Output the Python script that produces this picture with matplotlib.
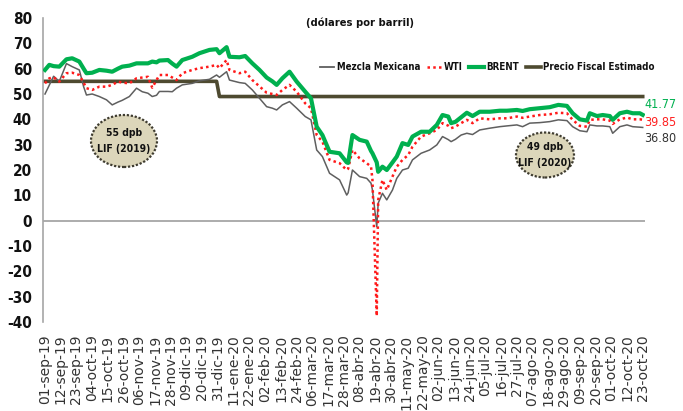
import matplotlib
matplotlib.use("Agg")
import matplotlib.pyplot as plt
import matplotlib.dates as mdates
import matplotlib.font_manager as fm
from matplotlib.patches import Ellipse
from matplotlib.lines import Line2D
import pandas as pd

# ---------------- data ----------------
dates = [
    "2019-09-01", "2019-09-04", "2019-09-07", "2019-09-11", "2019-09-16", "2019-09-20",
    "2019-09-25", "2019-09-28", "2019-09-30", "2019-10-04", "2019-10-09", "2019-10-14",
    "2019-10-18", "2019-10-22", "2019-10-25", "2019-10-30", "2019-11-04", "2019-11-08",
    "2019-11-12", "2019-11-15", "2019-11-18", "2019-11-20", "2019-11-26", "2019-11-29",
    "2019-12-02", "2019-12-06", "2019-12-13", "2019-12-18", "2019-12-25", "2019-12-30",
    "2020-01-01", "2020-01-06", "2020-01-08", "2020-01-15", "2020-01-19", "2020-01-24",
    "2020-01-29", "2020-02-03", "2020-02-07", "2020-02-10", "2020-02-14", "2020-02-19",
    "2020-02-24", "2020-03-01", "2020-03-05", "2020-03-09", "2020-03-13", "2020-03-18",
    "2020-03-25", "2020-03-30", "2020-03-31", "2020-04-03", "2020-04-08", "2020-04-13",
    "2020-04-16", "2020-04-17", "2020-04-20", "2020-04-21", "2020-04-24", "2020-04-27",
    "2020-05-01", "2020-05-04", "2020-05-08", "2020-05-12", "2020-05-15", "2020-05-21",
    "2020-05-27", "2020-06-01", "2020-06-05", "2020-06-09", "2020-06-11", "2020-06-14",
    "2020-06-18", "2020-06-22", "2020-06-26", "2020-07-01", "2020-07-08", "2020-07-15",
    "2020-07-20", "2020-07-27", "2020-07-31", "2020-08-05", "2020-08-12", "2020-08-19",
    "2020-08-25", "2020-08-31", "2020-09-04", "2020-09-09", "2020-09-14", "2020-09-16",
    "2020-09-21", "2020-09-25", "2020-09-30", "2020-10-02", "2020-10-07", "2020-10-12",
    "2020-10-16", "2020-10-21", "2020-10-23",
]

mezcla = [
    50.0, 53.5, 57.0, 55.0, 62.0, 60.8,
    59.5, 52.9, 49.6, 50.0, 49.0, 47.7,
    45.7, 46.8, 47.5, 49.0, 52.3, 50.9,
    50.3, 49.0, 49.5, 51.0, 51.0, 50.9,
    52.3, 53.6, 54.2, 55.2, 55.8, 57.5,
    56.6, 58.8, 55.5, 54.5, 54.2, 51.6,
    48.3, 45.0, 44.4, 43.7, 45.7, 47.0,
    44.4, 41.1, 39.8, 27.9, 25.3, 18.7,
    16.1, 10.1, 11.0, 20.0, 17.4, 16.7,
    14.8, 12.1, -2.4, 6.9, 10.8, 8.2,
    12.1, 16.7, 20.0, 20.7, 24.0, 26.6,
    27.9, 29.9, 33.2, 32.0, 31.2, 32.1,
    33.8, 34.5, 34.0, 35.8, 36.5, 37.1,
    37.4, 37.8, 37.1, 38.5, 38.7, 39.1,
    39.8, 39.5, 37.1, 35.5, 35.1, 37.8,
    37.4, 37.4, 37.1, 34.5, 37.1, 37.8,
    37.1, 36.9, 36.80,
]

wti = [
    54.2, 56.2, 56.6, 54.9, 58.2, 58.4,
    57.5, 54.5, 52.3, 51.6, 52.9, 52.9,
    53.6, 54.9, 54.5, 54.2, 56.2, 56.5,
    56.8, 52.5, 55.5, 57.5, 57.5, 56.5,
    55.5, 58.2, 59.5, 60.2, 60.8, 61.5,
    60.2, 63.4, 59.5, 58.2, 58.8, 55.5,
    53.0, 50.5, 50.0, 49.6, 51.6, 53.6,
    50.9, 46.3, 44.4, 33.8, 31.2, 24.0,
    22.7, 20.0, 20.5, 27.9, 24.6, 22.7,
    21.3, 16.1, -37.6, 8.2, 16.1, 12.1,
    17.4, 21.3, 24.0, 25.9, 29.2, 33.2,
    34.5, 35.8, 38.5, 37.5, 36.5, 37.1,
    38.5, 39.8, 38.5, 40.4, 40.0, 40.4,
    40.4, 41.1, 40.6, 41.1, 41.7, 42.0,
    42.6, 42.4, 39.8, 37.4, 37.1, 39.8,
    40.0, 40.0, 39.5, 38.2, 40.0, 40.7,
    40.0, 40.0, 39.85,
]

brent = [
    59.5, 61.5, 61.0, 60.8, 63.7, 64.1,
    62.8, 60.0, 58.2, 58.4, 59.5, 59.2,
    58.8, 60.0, 60.8, 61.2, 62.1, 62.1,
    62.1, 62.8, 62.5, 63.2, 63.4, 62.0,
    60.8, 63.4, 64.7, 66.1, 67.4, 67.7,
    66.1, 68.5, 64.7, 64.5, 65.0, 62.1,
    59.5, 56.5, 55.0, 53.6, 56.2, 58.8,
    54.9, 50.9, 48.3, 37.1, 33.8, 27.2,
    26.6, 23.0, 22.8, 33.8, 31.9, 31.2,
    27.5, 26.6, 23.0, 19.3, 21.3, 20.0,
    23.0, 25.3, 30.6, 29.9, 33.2, 35.1,
    35.1, 37.8, 41.7, 41.1, 38.5, 39.0,
    40.8, 42.6, 41.3, 43.0, 43.0, 43.4,
    43.4, 43.7, 43.3, 44.0, 44.4, 44.8,
    45.7, 45.3, 42.4, 40.0, 39.5, 42.4,
    41.3, 41.7, 41.3, 39.8, 42.4, 43.0,
    42.4, 42.4, 41.77,
]

fiscal_dates = ["2019-09-01", "2019-12-30", "2020-01-01", "2020-10-23"]
fiscal_vals = [55, 55, 49, 49]

yticks = list(range(-40, 90, 10))
tick_start = "2019-09-01"
tick_end = "2020-10-23"
tick_step_days = 11
month_abbr = ["ene", "feb", "mar", "abr", "may", "jun",
              "jul", "ago", "sep", "oct", "nov", "dic"]

series_labels = ["Mezcla Mexicana", "WTI", "BRENT", "Precio Fiscal Estimado"]
ellipse_texts = ["55 dpb\nLIF (2019)", "49 dpb\nLIF (2020)"]
title = "(dólares por barril)"

# ---------------- fonts: look for a narrow/condensed face ----------------
def find_narrow(bold):
    for f in fm.fontManager.ttflist:
        key = (f.name + " " + f.fname).lower()
        if ("narrow" in key or "condensed" in key) and "extra" not in key \
                and "semi" not in key and "ultra" not in key and "italic" not in key \
                and "oblique" not in key and "mono" not in key:
            w = f.weight if isinstance(f.weight, int) else (700 if "bold" in str(f.weight) else 400)
            if bold and 600 <= w <= 750:
                return f.fname
            if not bold and 350 <= w <= 450:
                return f.fname
    return None

nb = find_narrow(True)
nr = find_narrow(False)
if nb and nr:
    def FP(size, bold=False):
        return fm.FontProperties(fname=nb if bold else nr, size=size)
    k = 1.0
else:
    def FP(size, bold=False):
        return fm.FontProperties(family=["Liberation Sans", "DejaVu Sans"],
                                 weight="bold" if bold else "normal", size=size)
    k = 0.9

# ---------------- style ----------------
c_mezcla = "#5F5F5F"
c_wti = "#FF1A1A"
c_brent = "#00B04F"
c_fiscal = "#4E4A30"

W, H = 683, 411
fig = plt.figure(figsize=(W / 100, H / 100), dpi=100)
ax = fig.add_axes([43 / W, 1 - 322 / H, (645 - 43) / W, (322 - 18) / H])

d = pd.to_datetime(dates)
fd = pd.to_datetime(fiscal_dates)

ax.plot(d, mezcla, color=c_mezcla, lw=1.1, zorder=3)
ax.plot(d, wti, color=c_wti, lw=1.8, linestyle=(0, (1, 1.3)), zorder=4)
ax.plot(d, brent, color=c_brent, lw=3.0, zorder=5, solid_joinstyle="round")
ax.plot(fd, fiscal_vals, color=c_fiscal, lw=2.6, zorder=2)

ax.axhline(0, color="#A6A6A6", lw=1.3, zorder=1)

t0 = pd.Timestamp(tick_start)
ax.set_xlim(mdates.date2num(t0) - 1.4, mdates.date2num(t0) + 419.6)
ax.set_ylim(-40, 80)

ticks = pd.date_range(tick_start, tick_end, freq=f"{tick_step_days}D")
ax.set_xticks(ticks)
ax.set_xticklabels([f"{t.day:02d}-{month_abbr[t.month - 1]}-{t.strftime('%y')}" for t in ticks],
                   rotation=90, fontsize=10, color="#333333", family="DejaVu Sans")
ax.tick_params(axis="x", length=0, pad=9)

ax.set_yticks(yticks)
ax.set_yticklabels([str(v) for v in yticks], color="#111111")
for lab in ax.get_yticklabels():
    lab.set_fontproperties(FP(11 * k, bold=True))
ax.tick_params(axis="y", length=0, pad=8)

for s in ["top", "right", "bottom"]:
    ax.spines[s].set_visible(False)
ax.spines["left"].set_color("#A6A6A6")
ax.spines["left"].set_linewidth(1.2)

# title
fig.text(360 / W, 1 - 23 / H, title, ha="center", va="center",
         fontproperties=FP(8 * k, bold=True), color="#111111")

# legend
handles = [
    Line2D([], [], color=c_mezcla, lw=1.3),
    Line2D([], [], color=c_wti, lw=1.8, linestyle=(0, (1, 1.3))),
    Line2D([], [], color=c_brent, lw=3.0),
    Line2D([], [], color=c_fiscal, lw=2.6),
]
leg = fig.legend(handles, series_labels, loc="center",
                 bbox_to_anchor=(487 / W, 1 - 67 / H), ncol=4, frameon=False,
                 handlelength=1.5, handletextpad=0.25, columnspacing=0.7,
                 borderpad=0.2, prop=FP(7.0 * k, bold=True))
for t in leg.get_texts():
    t.set_color("#111111")

# end value labels
end_offsets = [(brent, c_brent, 7.5), (wti, "#FF2020", -2.0), (mezcla, "#333333", -8.0)]
for ser, col, dy in end_offsets:
    ax.annotate(f"{ser[-1]:.2f}", xy=(d[-1], ser[-1]), xytext=(1, dy),
                textcoords="offset points", ha="left", va="center",
                fontproperties=FP(9 * k), color=col, annotation_clip=False)

# ellipses
ell_specs = [((124, 141), 66, 52), ((545, 155), 58, 45)]
for (cx, cy), ew, eh in ell_specs:
    e = Ellipse((cx / W, 1 - cy / H), ew / W, eh / H, transform=fig.transFigure,
                facecolor="#DCD6BA", edgecolor="#3F3C30", lw=1.6, linestyle=(0, (1, 0.8)),
                zorder=6)
    fig.add_artist(e)
for ((cx, cy), ew, eh), txt in zip(ell_specs, ellipse_texts):
    fig.text(cx / W, 1 - cy / H, txt, ha="center", va="center",
             fontproperties=FP(7.5 * k, bold=True),
             color="#111111", linespacing=1.7, zorder=7)

fig.savefig("out.png", dpi=100)
